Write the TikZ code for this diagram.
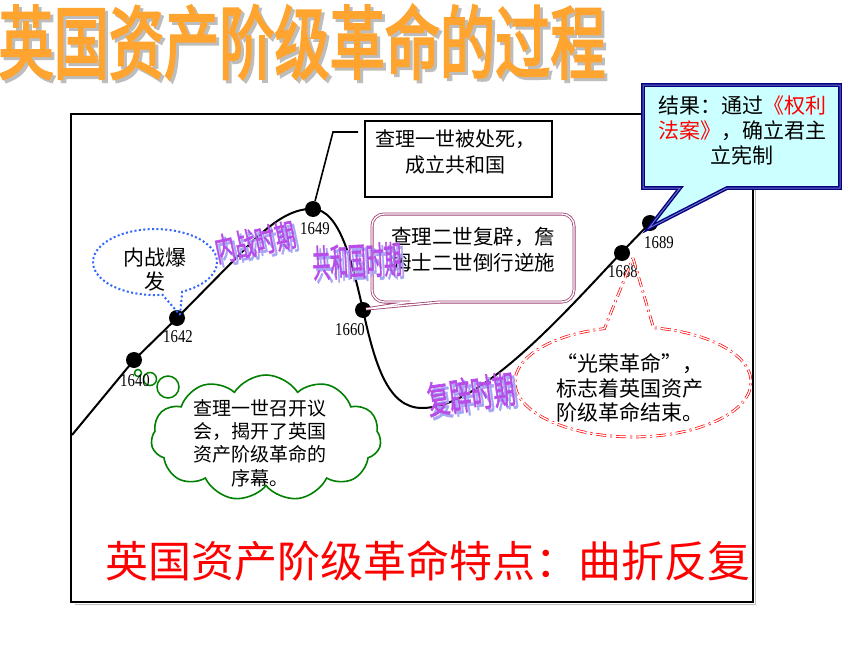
\documentclass[tikz,border=0pt]{standalone}
\usepackage{fontspec}
\usetikzlibrary{shapes.symbols}
\newfontfamily\cjk{Noto Sans CJK SC}
\newfontfamily\cjkheavy[FakeBold=3]{Noto Sans CJK SC}
\newfontfamily\cjkmid[FakeBold=1.5]{Noto Sans CJK SC}
\newfontfamily\yearfont{Liberation Serif}
\definecolor{torg}{HTML}{FFA42E}
\definecolor{tshadow}{HTML}{BDBDBD}
\definecolor{pviolet}{HTML}{B84CE8}
\definecolor{pshadow}{HTML}{A6A6F5}
\definecolor{cgreen}{HTML}{008000}
\definecolor{cblue}{HTML}{3366FF}
\definecolor{cmaroon}{HTML}{A04070}
\definecolor{cnavy}{HTML}{000080}
\definecolor{cnavyin}{HTML}{7070C8}
\definecolor{ccyan}{HTML}{CCFFFF}
\begin{document}
\begin{tikzpicture}[x=1pt,y=-1pt,
  yrdot/.style={circle,fill=black,inner sep=0pt,minimum size=16pt},
  yrlab/.style={font=\yearfont\fontsize{18}{18}\selectfont,inner sep=0pt,xscale=0.82,transform shape},
  txt/.style={font=\cjk\fontsize{20}{25.5}\selectfont,align=center,inner sep=0pt},
  ttl/.style={font=\cjkheavy\fontsize{80}{80}\selectfont,inner sep=0pt,xscale=0.69,transform shape},
  perlab/.style={font=\cjkmid\fontsize{#1}{#1}\selectfont,inner sep=0pt},
  curveline/.style={line width=2pt,black},
  bubble/.style={circle,draw=cgreen,line width=1.5pt,inner sep=0pt},
]
\useasboundingbox (0,0) rectangle (860,645);
\fill[white] (0,0) rectangle (860,645);

% ---------- title with shadow ----------
\node[ttl,text=tshadow] (ttlshadow) at (305,45) {英国资产阶级革命的过程};
\node[ttl,text=torg] (title) at (302,42) {英国资产阶级革命的过程};

% ---------- frame ----------
\draw[gray!50,line width=1.5pt] (75,604.5) -- (755.5,604.5) -- (755.5,118);
\draw[line width=2.5pt] (71,114) rectangle (753,602);

% ---------- curve ----------
\coordinate (cstart) at (72,435);
\coordinate (cend) at (655,219);
\draw[curveline] (cstart) -- (134,360) -- (177,318) -- (240,254)
  .. controls (268,225) and (290,208) .. (313,209)
  .. controls (340,210) and (352,262) .. (363,310)
  .. controls (375,365) and (388,408) .. (422,408)
  .. controls (480,408) and (560,318) .. (621,253) -- (650,223) -- (cend);

% ---------- dots ----------
\node[yrdot] (d1640) at (134,360) {};
\node[yrdot] (d1642) at (177,318) {};
\node[yrdot] (d1649) at (313,209) {};
\node[yrdot] (d1660) at (363,310) {};
\node[yrdot] (d1688) at (622,253) {};
\node[yrdot] (d1689) at (650,223) {};

% ---------- 1649 box ----------
\coordinate (k1) at (333,132);
\coordinate (k2) at (358,132);
\draw[line width=1.6pt] (d1649) -- (k1) -- (k2);
\node[draw,line width=2pt,fill=white,minimum width=187pt,minimum height=76pt,inner sep=0pt] (box1649) at (458.5,159) {};
\node[txt] (t1649) at (455,152) {查理一世被处死，\\成立共和国};

% ---------- blue dotted callout ----------
\coordinate (btip) at (180,315);
\draw[cblue,line width=2pt,dash pattern=on 2pt off 2.4pt] (btip) -- (182.2,291.7)
  arc[start angle=64,end angle=-277,x radius=62,y radius=33] -- cycle;
\node[txt,font=\cjk\fontsize{21}{24}\selectfont] (tblue) at (155,270) {内战爆\\发};

% ---------- green thought cloud ----------
\node[bubble,minimum size=7pt] (bub1) at (138,373) {};
\node[bubble,minimum size=13pt] (bub2) at (150,379) {};
\node[bubble,minimum size=22pt] (bub3) at (168,387) {};
\node[cloud,draw=cgreen,line width=1.6pt,fill=white,cloud puffs=11,cloud puff arc=115,aspect=1.85,
      minimum width=230pt,minimum height=126pt,inner sep=0pt] (gcloud) at (266,438) {};
\node[txt,font=\cjk\fontsize{19}{23.3}\selectfont] (tgreen) at (260,443) {查理一世召开议\\会，揭开了英国\\资产阶级革命的\\序幕。};

% ---------- year labels ----------
\node[yrlab] (l1640) at (135,381) {1640};
\node[yrlab] (l1642) at (178,337) {1642};
\node[yrlab] (l1649) at (315,229) {1649};
\node[yrlab] (l1660) at (350,330) {1660};
\node[yrlab] (l1688) at (623,272) {1688};
\node[yrlab] (l1689) at (659,243) {1689};

% ---------- maroon rounded callout ----------
\coordinate (mtip) at (366,309);
\draw[cmaroon,line width=0.8pt,double=white,double distance=1.4pt,fill=white]
  (440,302) -- (mtip) -- (410,302) [rounded corners=12pt] -- (372,302) -- (372,214) -- (574,214) -- (574,302) [sharp corners] -- cycle;
\node[txt,font=\cjk\fontsize{20.5}{26}\selectfont] (tmaroon) at (473,250) {查理二世复辟，詹\\姆士二世倒行逆施};

% ---------- result callout ----------
\coordinate (rtip) at (649,228);
\draw[cnavy,line width=1.4pt,double=cnavyin,double distance=1pt,fill=ccyan]
  (643,85) -- (840,85) -- (840,188) -- (727,188) -- (rtip) -- (680,188) -- (643,188) -- cycle;
\node[txt,font=\cjk\fontsize{21}{25}\selectfont] (tresult) at (742,130)
  {结果：通过\textcolor{red}{《权利}\\\textcolor{red}{法案》}，确立君主\\立宪制};

% ---------- red dash-dot ellipse callout ----------
\coordinate (etip) at (633,258);
\draw[red,line width=0.7pt,double=white,double distance=1.3pt,dash pattern=on 10pt off 4pt on 2pt off 4pt]
  (etip) -- (653.5,327.8) arc[start angle=-80,end angle=256,x radius=118,y radius=55] -- cycle;
\node[txt,font=\cjk\fontsize{21}{24.5}\selectfont] (tred) at (630,388) {“光荣革命”，\\标志着英国资产\\阶级革命结束。};

% ---------- period labels (with shadows) ----------
\node[perlab=32,text=pshadow,rotate=12,xscale=0.64,transform shape] (p1s) at (258,245) {内战时期};
\node[perlab=32,text=pviolet,rotate=12,xscale=0.64,transform shape] (p1) at (255,242) {内战时期};
\node[perlab=38,text=pshadow,rotate=3,xscale=0.47,transform shape] (p2s) at (360,264) {共和国时期};
\node[perlab=38,text=pviolet,rotate=3,xscale=0.47,transform shape] (p2) at (357,261) {共和国时期};
\node[perlab=38,text=pshadow,rotate=8,xscale=0.58,transform shape] (p3s) at (474,397) {复辟时期};
\node[perlab=38,text=pviolet,rotate=8,xscale=0.58,transform shape] (p3) at (471,394) {复辟时期};

% ---------- bottom statement ----------
\node[font=\cjk\fontsize{43}{43}\selectfont,text=red,inner sep=0pt] (feature) at (428,561) {英国资产阶级革命特点：曲折反复};
\end{tikzpicture}
\end{document}
